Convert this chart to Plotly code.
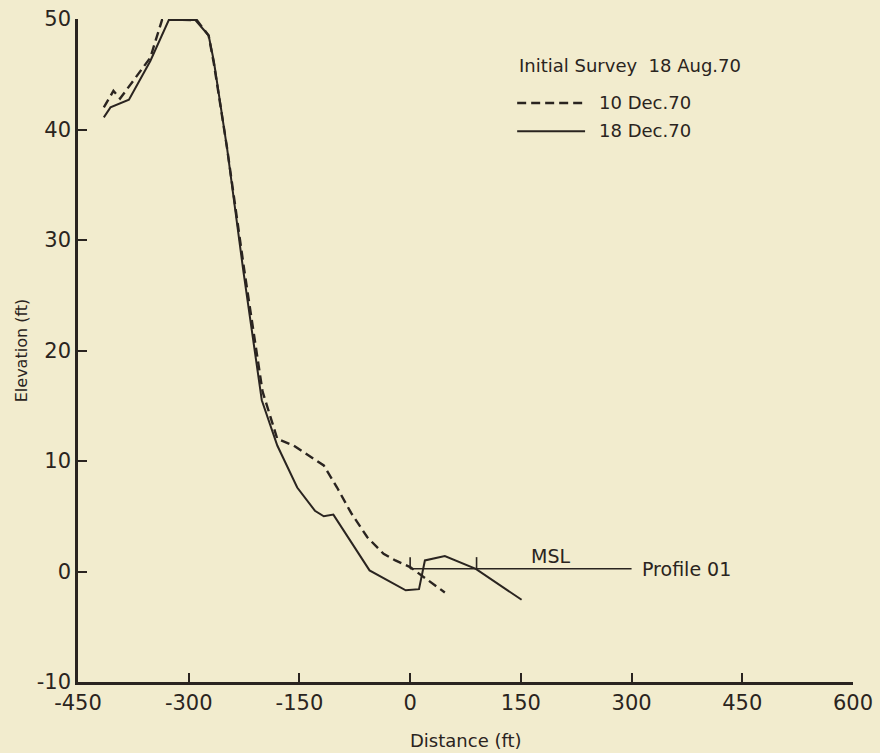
import plotly.graph_objects as go

# ---- data ----
dec10_x = [-415, -402, -393, -352, -336, -330, -289, -273, -266, -248, -225, -200, -192,
           -180, -158, -140, -117, -99, -80, -58, -36, -20, 0, 47]
dec10_y = [42.0, 43.5, 42.8, 46.5, 49.95, 49.95, 49.9, 48.5, 46.0, 38.3, 27.4, 16.3, 14.6,
           12.0, 11.4, 10.6, 9.6, 7.6, 5.3, 3.1, 1.6, 1.0, 0.4, -1.9]

dec18_x = [-415, -406, -381, -352, -327, -291, -273, -266, -248, -226, -201, -180,
           -153, -129, -117, -104, -55, -6, 12, 20, 47, 89, 151]
dec18_y = [41.1, 42.0, 42.7, 46.2, 49.9, 49.9, 48.5, 46.2, 38.3, 27.2, 15.5, 11.4,
           7.6, 5.5, 5.0, 5.15, 0.1, -1.7, -1.6, 1.0, 1.4, 0.24, -2.56]

msl_x = [0, 300]
msl_y = [0.25, 0.25]
msl_mark_x = [0, 90]
msl_mark_top = 1.3

x_ticks = [-450, -300, -150, 0, 150, 300, 450, 600]
y_ticks = [-10, 0, 10, 20, 30, 40, 50]

BG = "#f2ecce"
INK = "#2a2420"
FONT = "DejaVu Sans"

fig = go.Figure()

fig.add_trace(go.Scatter(x=dec10_x, y=dec10_y, mode="lines",
                         line=dict(color=INK, width=2.4, dash="9px,5px"),
                         name="10 Dec.70", showlegend=False))
fig.add_trace(go.Scatter(x=dec18_x, y=dec18_y, mode="lines",
                         line=dict(color=INK, width=2.0),
                         name="18 Dec.70", showlegend=False))
fig.add_trace(go.Scatter(x=msl_x, y=msl_y, mode="lines",
                         line=dict(color=INK, width=1.6), showlegend=False,
                         hoverinfo="skip"))
mx, my = [], []
for v in msl_mark_x:
    mx += [v, v, None]
    my += [msl_y[0], msl_mark_top, None]
fig.add_trace(go.Scatter(x=mx, y=my, mode="lines",
                         line=dict(color=INK, width=1.6), showlegend=False,
                         hoverinfo="skip"))

# manual legend (as in the reference)
fig.add_shape(type="line", x0=145, x1=234, y0=42.4, y1=42.4, xref="x", yref="y",
              line=dict(color=INK, width=2.4, dash="9px,5px"))
fig.add_shape(type="line", x0=145, x1=237, y0=39.85, y1=39.85, xref="x", yref="y",
              line=dict(color=INK, width=2.0))
fig.add_annotation(x=145, y=45.8, text="Initial Survey  18 Aug.70", showarrow=False,
                   xanchor="left", yanchor="middle", font=dict(family=FONT, size=18, color=INK))
fig.add_annotation(x=253, y=42.45, text="10 Dec.70", showarrow=False,
                   xanchor="left", yanchor="middle", font=dict(family=FONT, size=18, color=INK))
fig.add_annotation(x=253, y=39.9, text="18 Dec.70", showarrow=False,
                   xanchor="left", yanchor="middle", font=dict(family=FONT, size=18, color=INK))
fig.add_annotation(x=190, y=0.25, text="MSL", showarrow=False,
                   xanchor="center", yanchor="bottom", font=dict(family=FONT, size=19, color=INK))
fig.add_annotation(x=311, y=0.25, text="Profile 01", showarrow=False,
                   xanchor="left", yanchor="middle", font=dict(family=FONT, size=19, color=INK))

# x-axis title placed below the tick labels
fig.add_annotation(x=0.5, y=-0.0875, xref="paper", yref="paper", text="Distance (ft)",
                   showarrow=False, xanchor="center", yanchor="middle",
                   font=dict(family=FONT, size=18, color=INK))

axis_common = dict(showgrid=False, zeroline=False, showline=True, linecolor=INK,
                   linewidth=2.5, ticks="inside", ticklen=9, tickwidth=2, tickcolor=INK,
                   tickfont=dict(family=FONT, size=21, color=INK), automargin=False)

fig.update_xaxes(range=[-450, 600], tickvals=x_ticks, ticktext=[str(v) for v in x_ticks],
                 **axis_common)
fig.update_yaxes(range=[-10, 50], tickvals=y_ticks, ticktext=[str(v) for v in y_ticks],
                 title=dict(text="Elevation (ft)", font=dict(family=FONT, size=16, color=INK),
                            standoff=6),
                 **axis_common)

fig.update_layout(width=880, height=753, paper_bgcolor=BG, plot_bgcolor=BG,
                  margin=dict(l=78, r=27, t=19, b=71), showlegend=False)

fig.write_html("out.html")
